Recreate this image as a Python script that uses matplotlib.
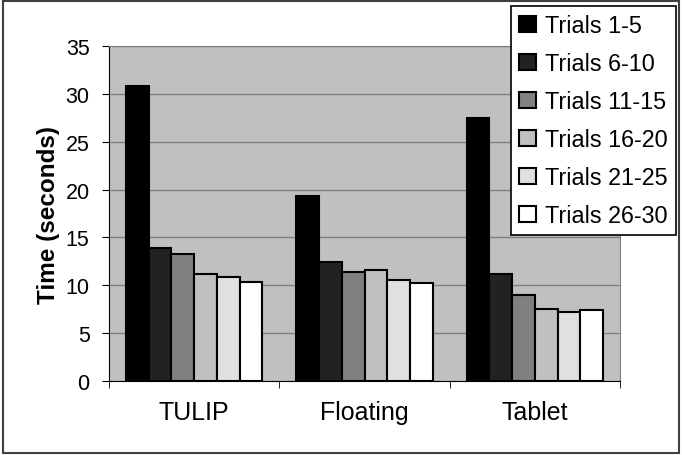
import numpy as np
import matplotlib.pyplot as plt
from matplotlib.patches import Rectangle

plt.rcParams['font.family'] = ['Liberation Sans', 'DejaVu Sans']

categories = ['TULIP', 'Floating', 'Tablet']
series = ['Trials 1-5', 'Trials 6-10', 'Trials 11-15', 'Trials 16-20', 'Trials 21-25', 'Trials 26-30']
trials_1_5 = [30.8, 19.3, 27.5]
trials_6_10 = [13.9, 12.4, 11.2]
trials_11_15 = [13.3, 11.4, 9.0]
trials_16_20 = [11.2, 11.6, 7.5]
trials_21_25 = [10.9, 10.6, 7.2]
trials_26_30 = [10.3, 10.2, 7.4]
values = [trials_1_5, trials_6_10, trials_11_15, trials_16_20, trials_21_25, trials_26_30]
colors = ['#000000', '#222222', '#808080', '#c0c0c0', '#e0e0e0', '#ffffff']

fig = plt.figure(figsize=(6.82, 4.56), dpi=100)
ax = fig.add_axes([109/682, 1-382/456, 511/682, 335/456])
ax.set_facecolor('#c0c0c0')

x = np.arange(len(categories))
w = 0.8/6
for i, (name, vals) in enumerate(zip(series, values)):
    ax.bar(x - 0.4 + w*(i+0.5), vals, w, color=colors[i], edgecolor='black',
           linewidth=1.5, label=name, zorder=3)

ax.set_xlim(-0.5, 2.5)
ax.set_ylim(0, 35)
ax.set_yticks(range(0, 36, 5))
ax.yaxis.grid(True, color='#808080', linewidth=1, zorder=0)
ax.set_xticks(x)
ax.set_xticklabels(categories, fontsize=18)
ax.tick_params(axis='x', length=0, pad=14)
ax.set_xticks([-0.5, 0.5, 1.5, 2.5], minor=True)
ax.tick_params(axis='x', which='minor', length=5, direction='out', color='black')
ax.tick_params(axis='y', labelsize=15.5, length=5, pad=9, color='black')
ax.set_ylabel('Time (seconds)', fontsize=17.5, fontweight='bold', labelpad=4)
for s in ['top', 'right']:
    ax.spines[s].set_color('#808080')
for s in ['left', 'bottom']:
    ax.spines[s].set_color('black')

leg = fig.legend(loc='upper right', bbox_to_anchor=(676/682, 1-7/456), fontsize=16.8,
                 frameon=True, fancybox=False, edgecolor='black', framealpha=1,
                 handlelength=0.7, handleheight=0.7, handletextpad=0.4,
                 labelspacing=0.64, borderpad=0.35, borderaxespad=0)
leg.get_frame().set_linewidth(1.2)

fig.patches.append(Rectangle((0.004, 0.004), 0.992, 0.992, transform=fig.transFigure,
                             fill=False, edgecolor='#404040', linewidth=1.5))

fig.savefig('out.png', dpi=100)
